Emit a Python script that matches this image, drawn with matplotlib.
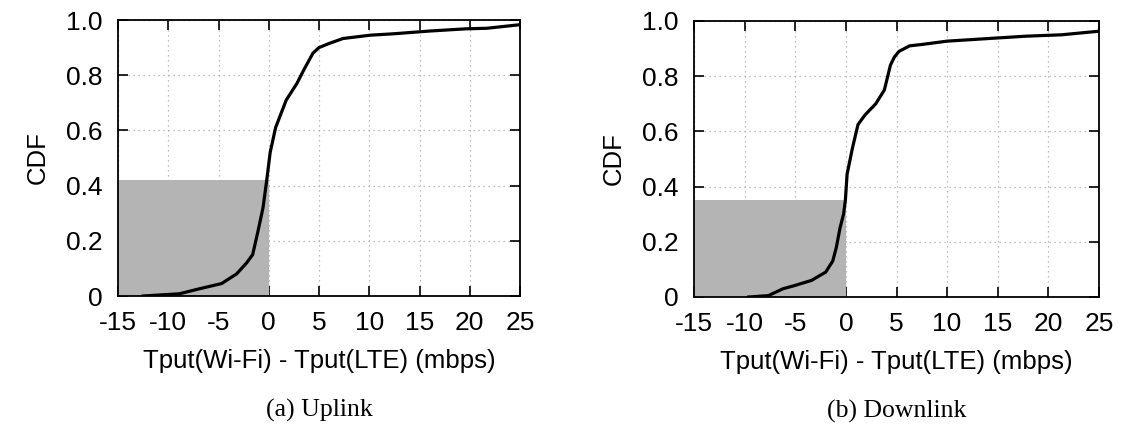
import numpy as np
import matplotlib.pyplot as plt
from matplotlib.patches import Rectangle

# uplink CDF
up_x = [-12.5, -8.9, -6.8, -4.7, -3.2, -2.2, -1.6, -1.1, -0.57, -0.2, 0.14, 0.68,
        1.74, 2.8, 3.5, 4.4, 5.0, 6.0, 7.4, 10.1, 12.4, 16.0, 19.6, 21.7, 25.0]
up_y = [0.0, 0.008, 0.027, 0.045, 0.08, 0.12, 0.15, 0.23, 0.32, 0.42, 0.52, 0.61,
        0.71, 0.77, 0.82, 0.88, 0.90, 0.915, 0.933, 0.945, 0.95, 0.96, 0.968, 0.97, 0.983]

# downlink CDF
down_x = [-9.6, -7.65, -6.2, -5.2, -3.4, -2.0, -1.3, -0.94, -0.58, -0.23, -0.05, 0.12,
          0.65, 1.2, 1.9, 2.95, 3.8, 4.4, 4.8, 5.25, 6.3, 7.5, 10.0, 14.3, 17.8, 21.3, 25.0]
down_y = [0.0, 0.005, 0.03, 0.04, 0.06, 0.09, 0.13, 0.18, 0.25, 0.30, 0.35, 0.445,
          0.54, 0.625, 0.66, 0.70, 0.75, 0.84, 0.87, 0.89, 0.91, 0.915, 0.927, 0.937,
          0.945, 0.95, 0.963]

# height of the shaded box (CDF at 0)
up_shade = 0.42
down_shade = 0.35

captions = ['(a) Uplink', '(b) Downlink']

plt.rcParams['font.family'] = ['Liberation Sans', 'DejaVu Sans']
plt.rcParams['axes.unicode_minus'] = False

fig = plt.figure(figsize=(11.22, 4.32), dpi=100)
ax1 = fig.add_axes([118/1122, 1-296/432, 402/1122, 276/432])
ax2 = fig.add_axes([694/1122, 1-297/432, 405/1122, 276/432])

for ax, xs, ys, sh, cap in [(ax1, up_x, up_y, up_shade, captions[0]),
                            (ax2, down_x, down_y, down_shade, captions[1])]:
    ax.add_patch(Rectangle((-15, 0), 15, sh, facecolor='#b4b4b4', edgecolor='none', zorder=1))
    ax.plot(xs, ys, '-k', lw=2.3, zorder=3, solid_joinstyle='round')
    ax.set_xlim(-15, 25)
    ax.set_ylim(0, 1.0)
    ax.set_xticks(np.arange(-15, 26, 5))
    ax.set_yticks([0, 0.2, 0.4, 0.6, 0.8, 1.0])
    ax.set_yticklabels(['0', '0.2', '0.4', '0.6', '0.8', '1.0'])
    ax.grid(True, color='#aaaaaa', linestyle=(0, (1, 3)), lw=0.9, zorder=0)
    ax.tick_params(direction='in', top=True, right=True, length=7, width=1.2,
                   labelsize=19)
    ax.tick_params(axis='x', pad=11)
    ax.tick_params(axis='y', pad=11)
    for s in ax.spines.values():
        s.set_linewidth(1.3)
    ax.set_axisbelow(True)
    ax.set_xlabel('Tput(Wi-Fi) - Tput(LTE) (mbps)', fontsize=18.5, labelpad=10)
    ax.set_ylabel('CDF', fontsize=18.5, labelpad=12)
    ax.text(0.5, -0.415, cap, transform=ax.transAxes, ha='center', va='center',
            fontsize=18.5, family='Liberation Serif')

plt.savefig('out.png', dpi=100)
